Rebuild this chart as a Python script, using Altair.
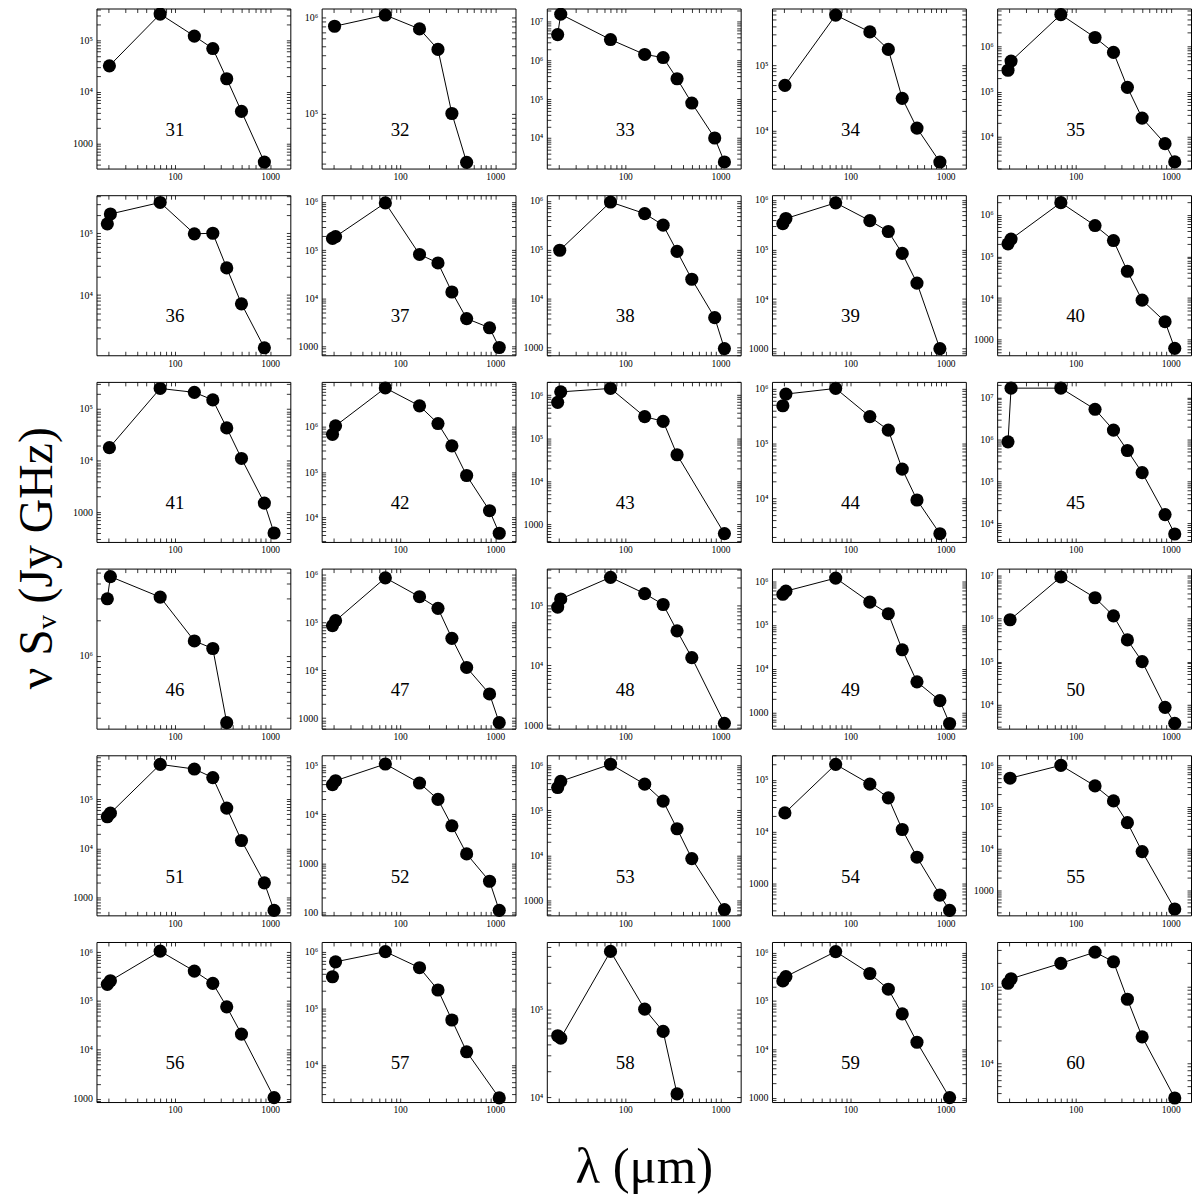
import altair as alt
import pandas as pd

# ---------------- data ----------------
X_DOMAIN = [15, 1630]

wavelength = {
    31: [20.5, 70, 160, 250, 350, 500, 870],
    32: [20.5, 70, 160, 250, 350, 500],
    33: [19.5, 21, 70, 160, 250, 350, 500, 870, 1100],
    34: [20.5, 70, 160, 250, 350, 500, 870],
    35: [19.5, 21, 70, 160, 250, 350, 500, 870, 1100],
    36: [19.5, 21, 70, 160, 250, 350, 500, 870],
    37: [19.5, 21, 70, 160, 250, 350, 500, 870, 1100],
    38: [20.5, 70, 160, 250, 350, 500, 870, 1100],
    39: [19.5, 21, 70, 160, 250, 350, 500, 870],
    40: [19.5, 21, 70, 160, 250, 350, 500, 870, 1100],
    41: [20.5, 70, 160, 250, 350, 500, 870, 1100],
    42: [19.5, 21, 70, 160, 250, 350, 500, 870, 1100],
    43: [19.5, 21, 70, 160, 250, 350, 1100],
    44: [19.5, 21, 70, 160, 250, 350, 500, 870],
    45: [19.5, 21, 70, 160, 250, 350, 500, 870, 1100],
    46: [19.5, 21, 70, 160, 250, 350],
    47: [19.5, 21, 70, 160, 250, 350, 500, 870, 1100],
    48: [19.5, 21, 70, 160, 250, 350, 500, 1100],
    49: [19.5, 21, 70, 160, 250, 350, 500, 870, 1100],
    50: [20.5, 70, 160, 250, 350, 500, 870, 1100],
    51: [19.5, 21, 70, 160, 250, 350, 500, 870, 1100],
    52: [19.5, 21, 70, 160, 250, 350, 500, 870, 1100],
    53: [19.5, 21, 70, 160, 250, 350, 500, 1100],
    54: [20.5, 70, 160, 250, 350, 500, 870, 1100],
    55: [20.5, 70, 160, 250, 350, 500, 1100],
    56: [19.5, 21, 70, 160, 250, 350, 500, 1100],
    57: [19.5, 21, 70, 160, 250, 350, 500, 1100],
    58: [19.5, 21, 70, 160, 250, 350],
    59: [19.5, 21, 70, 160, 250, 350, 500, 1100],
    60: [19.5, 21, 70, 160, 250, 350, 500, 1100],
}

flux = {
    31: [3.2e4, 3.2e5, 1.2e5, 6.9e4, 1.8e4, 4.2e3, 440],
    32: [8.1e5, 1.06e6, 7.6e5, 4.65e5, 1.0e5, 3.1e4],
    33: [4.7e6, 1.58e7, 3.5e6, 1.44e6, 1.2e6, 3.4e5, 8.0e4, 1.0e4, 2.4e3],
    34: [4.9e4, 5.9e5, 3.25e5, 1.75e5, 3.1e4, 1.08e4, 3.25e3],
    35: [2.95e5, 4.7e5, 5.0e6, 1.56e6, 7.3e5, 1.24e5, 2.6e4, 7.1e3, 2.8e3],
    36: [1.42e5, 2.05e5, 3.15e5, 9.8e4, 1.0e5, 2.75e4, 7.2e3, 1.4e3],
    37: [1.74e5, 1.9e5, 9.5e5, 8.1e4, 5.4e4, 1.35e4, 3.8e3, 2.45e3, 955],
    38: [9.8e4, 9.5e5, 5.5e5, 3.2e5, 9.3e4, 2.5e4, 4.1e3, 955],
    39: [3.3e5, 4.2e5, 8.7e5, 3.8e5, 2.3e5, 8.3e4, 2.1e4, 1.0e3],
    40: [2.0e5, 2.6e5, 1.95e6, 5.5e5, 2.4e5, 4.4e4, 8.9e3, 2.7e3, 620],
    41: [1.78e4, 2.5e5, 2.1e5, 1.5e5, 4.3e4, 1.1e4, 1.5e3, 395],
    42: [6.8e5, 1.05e6, 7.2e6, 2.9e6, 1.18e6, 3.8e5, 8.4e4, 1.4e4, 4.45e3],
    43: [6.8e5, 1.19e6, 1.43e6, 3.15e5, 2.46e5, 4.1e4, 600],
    44: [4.84e5, 7.9e5, 1.0e6, 3.07e5, 1.74e5, 3.4e4, 9.3e3, 2.26e3],
    45: [8.7e5, 1.66e7, 1.66e7, 5.2e6, 1.66e6, 5.4e5, 1.6e5, 1.6e4, 5.5e3],
    46: [3.0e6, 4.6e6, 3.1e6, 1.33e6, 1.15e6, 2.75e5],
    47: [8.7e4, 1.1e5, 8.7e5, 3.5e5, 2.0e5, 4.7e4, 1.15e4, 3.2e3, 800],
    48: [9.5e4, 1.3e5, 3.0e5, 1.6e5, 1.05e5, 3.8e4, 1.35e4, 1.07e3],
    49: [5.0e5, 5.9e5, 1.17e6, 3.3e5, 1.8e5, 2.7e4, 5.0e3, 1.86e3, 560],
    50: [9.5e5, 9.5e6, 3.1e6, 1.17e6, 3.2e5, 1.0e5, 8.5e3, 3.6e3],
    51: [4.4e4, 5.2e4, 5.1e5, 4.1e5, 2.75e5, 6.6e4, 1.45e4, 2.0e3, 550],
    52: [4.0e4, 4.8e4, 1.05e5, 4.3e4, 2.0e4, 5.8e3, 1.55e3, 430, 110],
    53: [3.2e5, 4.4e5, 1.05e6, 3.8e5, 1.6e5, 3.9e4, 8.5e3, 630],
    54: [2.3e4, 2.0e5, 8.3e4, 4.5e4, 1.1e4, 3.2e3, 590, 300],
    55: [4.9e5, 1.0e6, 3.2e5, 1.4e5, 4.2e4, 8.5e3, 355],
    56: [2.2e5, 2.6e5, 1.05e6, 4.1e5, 2.3e5, 7.6e4, 2.1e4, 1.05e3],
    57: [3.6e5, 6.6e5, 1.0e6, 5.2e5, 2.1e5, 6.2e4, 1.7e4, 2.6e3],
    58: [5.0e4, 4.7e4, 4.5e5, 1.0e5, 5.6e4, 1.1e4],
    59: [2.6e5, 3.2e5, 1.05e6, 3.7e5, 1.75e5, 5.4e4, 1.4e4, 1.0e3],
    60: [1.1e5, 1.26e5, 2.0e5, 2.8e5, 2.1e5, 6.8e4, 2.2e4, 3.5e3],
}

# y-axis range of each panel (bottom, top)
y_range = {
    31: [330, 4.1e5], 32: [2.67e4, 1.24e6], 33: [1.62e3, 2.22e7], 34: [2.58e3, 7.45e5],
    35: [2.0e3, 6.8e6], 36: [1.06e3, 4.13e5], 37: [660, 1.37e6], 38: [698, 1.31e6],
    39: [735, 1.24e6], 40: [423, 2.94e6], 41: [265, 3.35e5], 42: [2.86e3, 9.8e6],
    43: [384, 2.03e6], 44: [1.6e3, 1.315e6], 45: [3.55e3, 2.34e7], 46: [2.45e5, 5.37e6],
    47: [600, 1.36e6], 48: [870, 4.2e5], 49: [427, 1.93e6], 50: [2.7e3, 1.49e7],
    51: [437, 7.8e5], 52: [87, 1.58e5], 53: [468, 1.66e6], 54: [240, 3.0e5],
    55: [250, 1.74e6], 56: [850, 1.62e6], 57: [2.2e3, 1.48e6], 58: [8.9e3, 5.75e5],
    59: [810, 1.66e6], 60: [3.1e3, 3.8e5],
}

PANELS = list(range(31, 61))

# ---------------- styling ----------------
W, H = 195, 161
TS = 4
SERIF = "Liberation Serif"

X_TICKS = [m * 10 ** k for k in range(1, 4) for m in range(1, 10)
           if X_DOMAIN[0] <= m * 10 ** k <= X_DOMAIN[1]]
X_LABEL = "datum.value == 100 ? '100' : datum.value == 1000 ? '1000' : ''"
Y_LABEL = ("datum.value == 100 ? '100' : datum.value == 1000 ? '1000' : "
           "datum.value == 10000 ? '10⁴' : datum.value == 100000 ? '10⁵' : "
           "datum.value == 1000000 ? '10⁶' : datum.value == 10000000 ? '10⁷' : ''")


def make_panel(pid):
    df = pd.DataFrame({"wl": wavelength[pid], "flux": flux[pid]})
    lo, hi = y_range[pid]
    y_ticks = [m * 10 ** k for k in range(1, 9) for m in range(1, 10)
               if lo <= m * 10 ** k <= hi]
    xs = alt.Scale(type="log", domain=X_DOMAIN, nice=False)
    ys = alt.Scale(type="log", domain=[lo, hi], nice=False)

    common = dict(tickSize=TS, offset=-TS, domain=False, grid=False,
                  minExtent=0)
    bottom_kw = dict(orient="bottom", values=X_TICKS, labelExpr=X_LABEL,
                     labelPadding=3, labelOverlap=False, labelFlush=False,
                     labelFontSize=9.5, **common)
    if pid == 58:
        bottom_kw.update(title="λ   (μm)", titleFont=SERIF, titleFontSize=51,
                         titleFontWeight="normal", titlePadding=28)
    else:
        bottom_kw.update(title=None)
    ax_b = alt.Axis(**bottom_kw)
    ax_l = alt.Axis(orient="left", values=y_ticks, labelExpr=Y_LABEL,
                    labelPadding=4, labelOverlap=False, labelFlush=False,
                    labelFontSize=10, title=None, **common)
    ax_t = alt.Axis(orient="top", values=X_TICKS, labels=False, title=None,
                    **common)
    ax_r = alt.Axis(orient="right", values=y_ticks, labels=False, title=None,
                    **common)

    base = alt.Chart(df)
    line = base.mark_line(color="black", strokeWidth=1).encode(
        x=alt.X("wl:Q", scale=xs, axis=ax_b),
        y=alt.Y("flux:Q", scale=ys, axis=ax_l),
    )
    pts = base.mark_circle(size=175, color="black", opacity=1).encode(
        x=alt.X("wl:Q", scale=xs, axis=None),
        y=alt.Y("flux:Q", scale=ys, axis=None),
    )
    lab = alt.Chart(pd.DataFrame({"wl": [100], "t": [str(pid)]})).mark_text(
        font=SERIF, fontSize=19, color="black", baseline="middle", align="center"
    ).encode(
        x=alt.X("wl:Q", scale=xs, axis=None),
        y=alt.value(H - 39),
        text="t:N",
    )
    ghost = base.mark_point(opacity=0).encode(
        x=alt.X("wl:Q", scale=xs, axis=ax_t),
        y=alt.Y("flux:Q", scale=ys, axis=ax_r),
    )
    return alt.layer(line, pts, lab, ghost).resolve_axis(
        x="independent", y="independent"
    ).properties(width=W, height=H)


panels = [make_panel(p) for p in PANELS]

chart = alt.concat(
    *panels, columns=5, spacing={"row": 26.8, "column": 31.5}
).properties(
    bounds="flush",
    padding={"left": 6, "top": -8, "right": 0, "bottom": 0},
    title=alt.TitleParams(
        "ν  Sᵥ  (Jy GHz)", orient="left", anchor="middle", fontSize=48,
        font=SERIF, fontWeight="normal", color="black", offset=10, dx=40,
    ),
).configure_view(
    stroke="black", strokeWidth=1
).configure_axis(
    labelFont=SERIF, labelColor="black", tickColor="black", tickWidth=0.8
)

chart.save("out.html", embed_options={"renderer": "svg", "actions": False})
